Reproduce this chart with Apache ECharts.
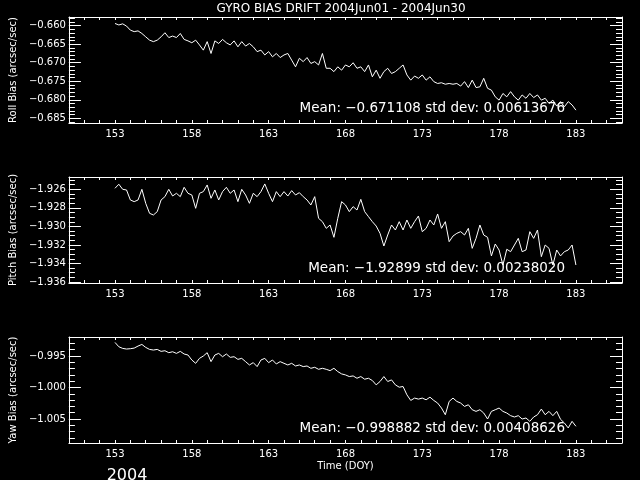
<!DOCTYPE html>
<html>
<head>
<meta charset="utf-8">
<script src="https://cdn.jsdelivr.net/npm/echarts@6/dist/echarts.min.js"></script>
<style>
  html, body { margin: 0; background: #000; }
  #main { width: 640px; height: 480px; }
</style>
</head>
<body>
<div id="main"></div>
<script>
// samples every 6 hours, DOY 153.0 .. 183.0
const dayStart = 153;
const dayStep = 0.25;

const roll = [
  -0.6594, -0.6598, -0.6595, -0.6601, -0.6612, -0.6616, -0.6614, -0.6621, -0.6630, -0.6639,
  -0.6643, -0.6639, -0.6630, -0.6619, -0.6632, -0.6628, -0.6632, -0.6621, -0.6637, -0.6641,
  -0.6646, -0.6639, -0.6652, -0.6666, -0.6643, -0.6675, -0.6641, -0.6648, -0.6637, -0.6646,
  -0.6652, -0.6641, -0.6657, -0.6643, -0.6655, -0.6648, -0.6657, -0.6670, -0.6666, -0.6679,
  -0.6670, -0.6684, -0.6675, -0.6686, -0.6679, -0.6675, -0.6693, -0.6711, -0.6688, -0.6697,
  -0.6686, -0.6702, -0.6697, -0.6706, -0.6675, -0.6715, -0.6715, -0.6724, -0.6711, -0.6720,
  -0.6706, -0.6711, -0.6700, -0.6715, -0.6711, -0.6724, -0.6706, -0.6738, -0.6720, -0.6742,
  -0.6724, -0.6715, -0.6729, -0.6724, -0.6715, -0.6706, -0.6733, -0.6747, -0.6736, -0.6742,
  -0.6733, -0.6747, -0.6738, -0.6751, -0.6756, -0.6754, -0.6758, -0.6756, -0.6758, -0.6756,
  -0.6763, -0.6751, -0.6767, -0.6747, -0.6767, -0.6765, -0.6742, -0.6769, -0.6774, -0.6792,
  -0.6801, -0.6783, -0.6792, -0.6778, -0.6792, -0.6801, -0.6787, -0.6796, -0.6783, -0.6794,
  -0.6787, -0.6801, -0.6796, -0.6810, -0.6801, -0.6817, -0.6805, -0.6819, -0.6805, -0.6814,
  -0.6828
];

const pitch = [
  -1.92589, -1.92545, -1.92600, -1.92607, -1.92715, -1.92733, -1.92715, -1.92600, -1.92751, -1.92859,
  -1.92877, -1.92841, -1.92715, -1.92679, -1.92600, -1.92672, -1.92643, -1.92679, -1.92578, -1.92643,
  -1.92661, -1.92805, -1.92643, -1.92625, -1.92553, -1.92697, -1.92607, -1.92715, -1.92625, -1.92578,
  -1.92643, -1.92607, -1.92733, -1.92600, -1.92661, -1.92751, -1.92643, -1.92679, -1.92625, -1.92542,
  -1.92643, -1.92733, -1.92625, -1.92679, -1.92625, -1.92672, -1.92614, -1.92661, -1.92636, -1.92679,
  -1.92715, -1.92769, -1.92679, -1.92913, -1.92949, -1.93021, -1.92985, -1.93118, -1.92913, -1.92733,
  -1.92769, -1.92841, -1.92787, -1.92823, -1.92708, -1.92841, -1.92895, -1.92949, -1.92996, -1.93075,
  -1.93212, -1.93093, -1.92985, -1.93039, -1.92949, -1.93039, -1.92931, -1.93021, -1.92949, -1.92888,
  -1.93057, -1.93021, -1.92931, -1.92985, -1.92866, -1.93021, -1.92949, -1.93165, -1.93104, -1.93075,
  -1.93057, -1.93093, -1.93021, -1.93237, -1.93129, -1.92985, -1.93093, -1.93118, -1.93319, -1.93190,
  -1.93255, -1.93417, -1.93247, -1.93273, -1.93201, -1.93129, -1.93273, -1.93255, -1.93057, -1.93129,
  -1.93039, -1.93327, -1.93201, -1.93237, -1.93417, -1.93255, -1.93319, -1.93273, -1.93255, -1.93201,
  -1.93417
];

const yaw = [
  -0.99284, -0.99353, -0.99379, -0.99389, -0.99384, -0.99374, -0.99342, -0.99316, -0.99363, -0.99395,
  -0.99405, -0.99395, -0.99426, -0.99416, -0.99447, -0.99432, -0.99458, -0.99426, -0.99468, -0.99484,
  -0.99563, -0.99616, -0.99537, -0.99500, -0.99447, -0.99589, -0.99484, -0.99458, -0.99511, -0.99468,
  -0.99521, -0.99511, -0.99553, -0.99537, -0.99589, -0.99642, -0.99605, -0.99668, -0.99563, -0.99537,
  -0.99605, -0.99563, -0.99626, -0.99589, -0.99616, -0.99642, -0.99616, -0.99658, -0.99642, -0.99668,
  -0.99658, -0.99695, -0.99679, -0.99711, -0.99695, -0.99711, -0.99732, -0.99695, -0.99747, -0.99784,
  -0.99800, -0.99826, -0.99816, -0.99853, -0.99826, -0.99868, -0.99853, -0.99889, -0.99958, -0.99905,
  -0.99826, -0.99905, -0.99879, -0.99958, -0.99995, -0.99984, -1.00116, -1.00205, -1.00168, -1.00184,
  -1.00168, -1.00195, -1.00153, -1.00205, -1.00247, -1.00326, -1.00432, -1.00221, -1.00168, -1.00221,
  -1.00247, -1.00300, -1.00274, -1.00353, -1.00379, -1.00353, -1.00405, -1.00500, -1.00379, -1.00353,
  -1.00326, -1.00379, -1.00405, -1.00447, -1.00468, -1.00447, -1.00500, -1.00484, -1.00537, -1.00468,
  -1.00432, -1.00342, -1.00432, -1.00379, -1.00447, -1.00379, -1.00505, -1.00563, -1.00642, -1.00537,
  -1.00616
];

const dayTicks = [151, 152, 153, 154, 155, 156, 157, 158, 159, 160, 161, 162, 163, 164, 165, 166, 167, 168,
  169, 170, 171, 172, 173, 174, 175, 176, 177, 178, 179, 180, 181, 182, 183, 184, 185];
const dayLabels = [153, 158, 163, 168, 173, 178, 183];

const rollTicks = [-0.660, -0.665, -0.670, -0.675, -0.680, -0.685];
const pitchTicks = [-1.926, -1.928, -1.930, -1.932, -1.934, -1.936];
const yawTicks = [-0.995, -1.000, -1.005];

const names = ['Roll Bias (arcsec/sec)', 'Pitch Bias (arcsec/sec)', 'Yaw Bias (arcsec/sec)'];
const means = ['-0.671108', '-1.92899', '-0.998882'];
const stdDevs = ['0.00613676', '0.00238020', '0.00408626'];

function steps(from, to, step) {
  let out = [];
  let n = Math.round((to - from) / step);
  for (let k = 0; k <= n; k++) out.push(+(from + k * step).toFixed(5));
  return out;
}

const minus = s => String(s).replace('-', '\u2212');
const white = '#fff';
const font = 'DejaVu Sans';

const panels = [
  { values: roll, min: -0.68627, max: -0.65765, major: rollTicks, minor: steps(-0.686, -0.658, 0.001), top: 17 },
  { values: pitch, min: -1.93611, max: -1.92467, major: pitchTicks, minor: steps(-1.936, -1.925, 0.0005), top: 177 },
  { values: yaw, min: -1.00881, max: -0.99198, major: yawTicks, minor: steps(-1.008, -0.993, 0.001), top: 337 }
];

let grid = [], xAxis = [], yAxis = [], series = [], graphic = [];

panels.forEach((p, i) => {
  grid.push({ left: 60, width: 562, top: p.top, height: 106 });

  const xBase = { type: 'value', gridIndex: i, min: 150, max: 186, splitLine: { show: false },
    axisLine: { lineStyle: { color: white } } };
  xAxis.push({
    ...xBase, position: 'bottom',
    axisTick: { inside: true, length: 3, customValues: dayTicks, lineStyle: { color: white } },
    axisLabel: { customValues: dayLabels, color: white, fontFamily: font, fontSize: 10, margin: 6 },
    name: i === 2 ? 'Time (DOY)' : '', nameLocation: 'middle', nameGap: 18,
    nameTextStyle: { color: white, fontFamily: font, fontSize: 10 }
  });
  xAxis.push({
    ...xBase, position: 'top',
    axisTick: { inside: true, length: 3, customValues: dayTicks, lineStyle: { color: white } },
    axisLabel: { show: false }
  });

  const yBase = { type: 'value', gridIndex: i, min: p.min, max: p.max, splitLine: { show: false },
    axisLine: { show: false } };
  yAxis.push({
    ...yBase, position: 'left',
    axisLine: { show: true, lineStyle: { color: white } },
    axisTick: { inside: true, length: 12, customValues: p.major, lineStyle: { color: white } },
    axisLabel: { customValues: p.major, formatter: v => minus(v.toFixed(3)), color: white,
      fontFamily: font, fontSize: 10, margin: 3 },
    name: names[i], nameLocation: 'middle', nameGap: 46,
    nameTextStyle: { color: white, fontFamily: font, fontSize: 10 }
  });
  yAxis.push({
    ...yBase, position: 'left',
    axisTick: { inside: true, length: 6, customValues: p.minor, lineStyle: { color: white } },
    axisLabel: { show: false }
  });
  yAxis.push({
    ...yBase, position: 'right',
    axisLine: { show: true, lineStyle: { color: white } },
    axisTick: { inside: true, length: 12, customValues: p.major, lineStyle: { color: white } },
    axisLabel: { show: false }
  });
  yAxis.push({
    ...yBase, position: 'right',
    axisTick: { inside: true, length: 6, customValues: p.minor, lineStyle: { color: white } },
    axisLabel: { show: false }
  });

  series.push({
    type: 'line',
    xAxisIndex: i * 2,
    yAxisIndex: i * 4,
    data: p.values.map((v, k) => [dayStart + k * dayStep, v]),
    showSymbol: false,
    lineStyle: { color: white, width: 1 },
    animation: false
  });

  graphic.push({
    type: 'text',
    x: 565, y: p.top + 91,
    style: { text: 'Mean: ' + minus(means[i]) + ' std dev: ' + stdDevs[i], fill: white,
      font: '13.5px ' + font, textAlign: 'right', textVerticalAlign: 'middle' }
  });
});

graphic.push({
  type: 'text', x: 341, y: 3,
  style: { text: 'GYRO BIAS DRIFT 2004Jun01 - 2004Jun30', fill: white, font: '12px ' + font,
    textAlign: 'center', textVerticalAlign: 'top' }
});
graphic.push({
  type: 'text', x: 127, y: 468,
  style: { text: '2004', fill: white, font: '16px ' + font, textAlign: 'center', textVerticalAlign: 'top' }
});

const myChart = echarts.init(document.getElementById('main'));
myChart.setOption({
  backgroundColor: '#000',
  animation: false,
  grid: grid,
  xAxis: xAxis,
  yAxis: yAxis,
  series: series,
  graphic: graphic
});
</script>
</body>
</html>
